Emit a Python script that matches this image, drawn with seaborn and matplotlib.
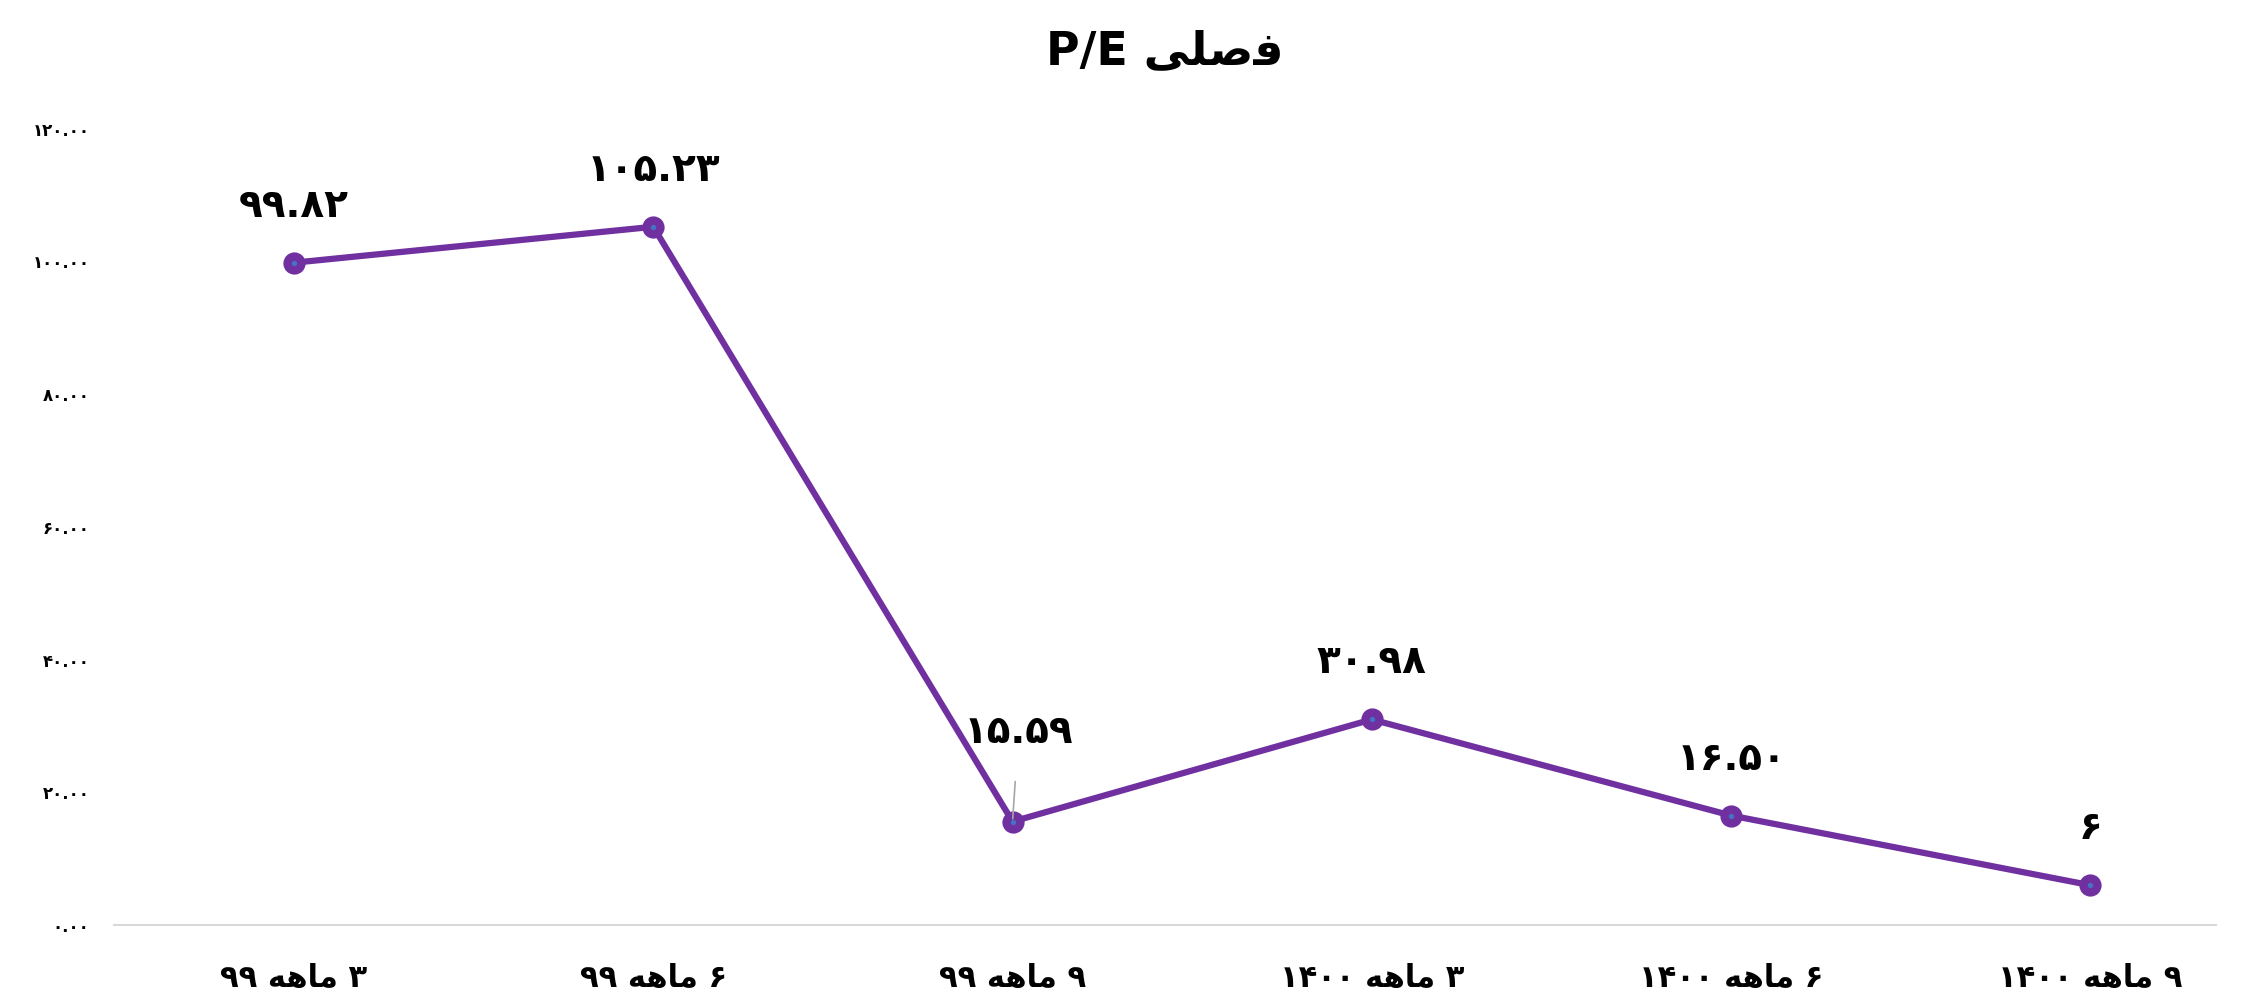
import numpy as np
import pandas as pd
import seaborn as sns
import matplotlib
matplotlib.use('Agg')
import matplotlib.pyplot as plt

# persian digits + pre-shaped arabic words (matplotlib has no shaping / bidi)
FA = str.maketrans('0123456789', '۰۱۲۳۴۵۶۷۸۹')
MAHEH = '\uFEEA\uFEEB\uFE8E\uFEE3'   # ماهه
FASLI = '\uFEF0\uFEE0\uFEBB\uFED3'   # فصلی

periods = [3, 6, 9, 3, 6, 9]
years = [99, 99, 99, 1400, 1400, 1400]
pe = [99.82, 105.23, 15.59, 30.98, 16.50, 6]
pe_labels = ['99.82', '105.23', '15.59', '30.98', '16.50', '6']
y_ticks = [0, 20, 40, 60, 80, 100, 120]

labels = [f'{y} {MAHEH} {p}'.translate(FA) for p, y in zip(periods, years)]
df = pd.DataFrame({'period': labels, 'pe': pe})

sns.set_theme(style='white')
plt.rcParams['font.family'] = ['DejaVu Sans']
plt.rcParams['text.color'] = 'black'
plt.rcParams['xtick.color'] = 'black'
plt.rcParams['ytick.color'] = 'black'

fig = plt.figure(figsize=(22.43, 10.06), dpi=100)
ax = fig.add_axes([0.051, 0.0805, 0.937, 0.7915])

sns.lineplot(
    data=df, x='period', y='pe', sort=False,
    color='#7030A0', lw=4.5,
    marker='o', markersize=10, markerfacecolor='#4472C4',
    markeredgecolor='#7030A0', markeredgewidth=6,
    ax=ax
)

for i, (v, lab) in enumerate(zip(pe, pe_labels)):
    if i == 2:
        ax.annotate(lab.translate(FA), (i, v), xytext=(6, 90), textcoords='offset pixels',
                    ha='center', va='center', fontsize=28, fontweight='bold',
                    arrowprops=dict(arrowstyle='-', color='#a6a6a6', lw=1.2,
                                    shrinkA=20, shrinkB=2))
    else:
        ax.annotate(lab.translate(FA), (i, v), xytext=(0, 57), textcoords='offset pixels',
                    ha='center', va='center', fontsize=28, fontweight='bold')

ax.set_ylim(0, 120)
ax.set_xlim(-0.5, 5.35)
ax.set_yticks(y_ticks)
ax.set_yticklabels([f'{t:.2f}'.translate(FA) for t in y_ticks], fontsize=12, fontweight='bold')
plt.setp(ax.get_xticklabels(), fontsize=22, fontweight='bold')
ax.tick_params(axis='y', length=0, pad=18)
ax.tick_params(axis='x', length=0, pad=28)
ax.set_xlabel('')
ax.set_ylabel('')

for s in ['top', 'right', 'left']:
    ax.spines[s].set_visible(False)
ax.spines['bottom'].set_color('#d9d9d9')
ax.spines['bottom'].set_linewidth(1.5)

fig.text(1165 / 2243, 1 - 52 / 1006, 'P/E ' + FASLI, ha='center', va='center',
         fontsize=33, fontweight='bold')

fig.savefig('out.png', dpi=100)
